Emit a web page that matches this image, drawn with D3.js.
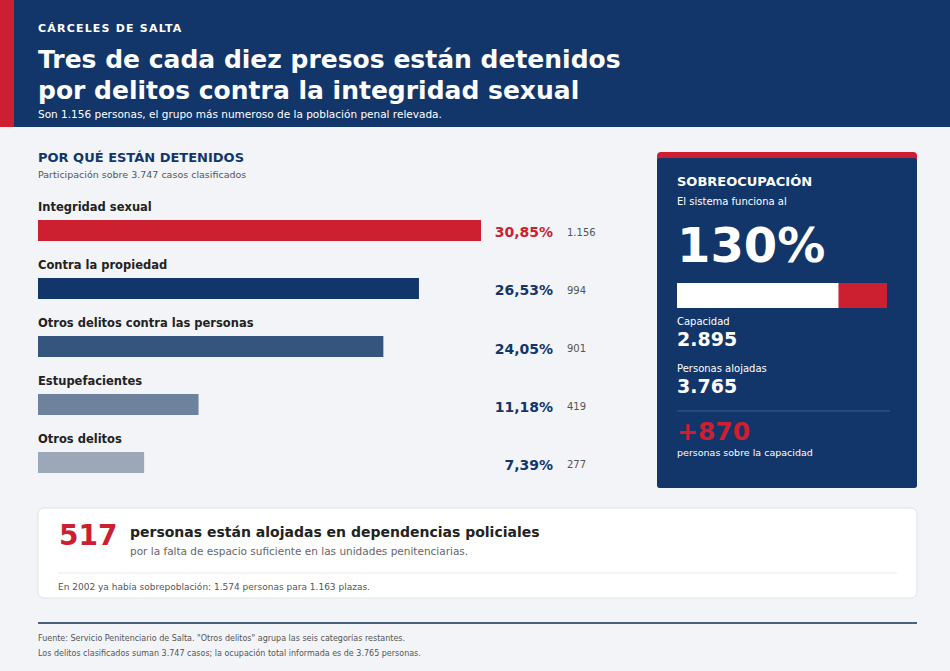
<!DOCTYPE html><html><head><meta charset="utf-8"><script src="https://cdn.jsdelivr.net/npm/d3@7"></script>
<style>body{margin:0;background:#f2f4f7}text{font-family:"DejaVu Sans",sans-serif}</style></head><body><svg id="c" width="950" height="671"></svg>
<script>
const categories=["Integridad sexual","Contra la propiedad","Otros delitos contra las personas","Estupefacientes","Otros delitos"];
const shares=[30.85,26.53,24.05,11.18,7.39];
const counts=["1.156","994","901","419","277"];
const colors=["#cc1f2f","#13366a","#35557e","#6e829e","#9ba8b8"];
const capacity=2895, housed=3765;
const svg=d3.select("#c");
const T=(x,y,t,o={})=>{const e=svg.append("text").attr("x",x).attr("y",y).text(t).attr("font-size",o.s||11).attr("fill",o.f||"#222").attr("font-weight",o.w||"normal").attr("text-anchor",o.a||"start");if(o.ls)e.attr("letter-spacing",o.ls);return e;};
svg.append("rect").attr("width",950).attr("height",671).attr("fill","#f2f4f7");
svg.append("rect").attr("width",950).attr("height",127).attr("fill","#13366a");
svg.append("rect").attr("width",14).attr("height",127).attr("fill","#cc1f2f");
T(38,32,"CÁRCELES DE SALTA",{s:11,w:"bold",f:"#fff",ls:1.2});
T(38,68,"Tres de cada diez presos están detenidos",{s:25,w:"bold",f:"#fff"});
T(38,99,"por delitos contra la integridad sexual",{s:25,w:"bold",f:"#fff"});
T(38,118,"Son 1.156 personas, el grupo más numeroso de la población penal relevada.",{s:10.5,f:"#fff"});
T(38,162,"POR QUÉ ESTÁN DETENIDOS",{s:13,w:"bold",f:"#13366a"});
T(38,178,"Participación sobre 3.747 casos clasificados",{s:9.5,f:"#555"});
const x=d3.scaleLinear().domain([0,30.85]).range([38,481]);
const y=d3.scaleBand().domain(categories).range([196,486]);
const g=svg.selectAll("g.r").data(categories).join("g");
g.append("text").attr("x",38).attr("y",d=>y(d)+15).text(d=>d).attr("font-size",11.5).attr("font-weight","bold").attr("fill","#222");
g.append("rect").attr("x",x(0)).attr("y",d=>y(d)+24).attr("height",21).attr("width",(d,i)=>x(shares[i])-x(0)).attr("fill",(d,i)=>colors[i]);
g.append("text").attr("x",553).attr("y",(d,i)=>y(d)+41+i*0.3).attr("text-anchor","end").text((d,i)=>shares[i].toFixed(2).replace(".",",")+"%").attr("font-size",14).attr("font-weight","bold").attr("fill",(d,i)=>i==0?"#cc1f2f":"#13366a");
g.append("text").attr("x",567).attr("y",d=>y(d)+40).text((d,i)=>counts[i]).attr("font-size",10).attr("fill","#555");
// panel
svg.append("rect").attr("x",657).attr("y",152).attr("width",260).attr("height",336).attr("rx",4).attr("fill","#cc1f2f");
svg.append("rect").attr("x",657).attr("y",158).attr("width",260).attr("height",330).attr("rx",3).attr("fill","#13366a");
T(677,186,"SOBREOCUPACIÓN",{s:13,w:"bold",f:"#fff"});
T(677,205,"El sistema funciona al",{s:10,f:"#fff"});
T(677,262,Math.round(housed/capacity*100)+"%",{s:48,w:"bold",f:"#fff"});
const gx=d3.scaleLinear().domain([0,housed]).range([677,887]);
svg.append("rect").attr("x",gx(0)).attr("y",283).attr("height",25).attr("width",gx(housed)-gx(0)).attr("fill","#cc1f2f");
svg.append("rect").attr("x",gx(0)).attr("y",283).attr("height",25).attr("width",gx(capacity)-gx(0)).attr("fill","#fff");
T(677,325,"Capacidad",{s:10,f:"#fff"});
T(677,346,"2.895",{s:19,w:"bold",f:"#fff"});
T(677,372,"Personas alojadas",{s:10,f:"#fff"});
T(677,393,"3.765",{s:19,w:"bold",f:"#fff"});
svg.append("line").attr("x1",677).attr("x2",890).attr("y1",411).attr("y2",411).attr("stroke","#3d5b85");
T(677,440,"+"+(housed-capacity),{s:25,w:"bold",f:"#cc1f2f"});
T(677,456,"personas sobre la capacidad",{s:9.5,f:"#fff"});
// bottom card
svg.append("rect").attr("x",38).attr("y",508).attr("width",879).attr("height",90).attr("rx",6).attr("fill","#fff").attr("stroke","#dde1e7");
T(59,545,"517",{s:28,w:"bold",f:"#cc1f2f"});
T(130,537,"personas están alojadas en dependencias policiales",{s:14,w:"bold",f:"#222"});
T(130,555,"por la falta de espacio suficiente en las unidades penitenciarias.",{s:10.5,f:"#666"});
svg.append("line").attr("x1",58).attr("x2",897).attr("y1",573).attr("y2",573).attr("stroke","#e5e8ec");
T(58,590,"En 2002 ya había sobrepoblación: 1.574 personas para 1.163 plazas.",{s:9,f:"#555"});
svg.append("line").attr("x1",38).attr("x2",917).attr("y1",623).attr("y2",623).attr("stroke","#4a6080").attr("stroke-width",2);
T(38,641,"Fuente: Servicio Penitenciario de Salta. \"Otros delitos\" agrupa las seis categorías restantes.",{s:8,f:"#555"});
T(38,656,"Los delitos clasificados suman 3.747 casos; la ocupación total informada es de 3.765 personas.",{s:8,f:"#555"});
</script></body></html>
